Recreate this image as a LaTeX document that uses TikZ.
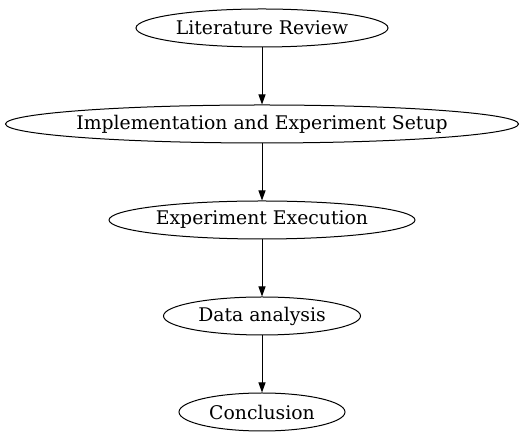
\documentclass[tikz,border=0pt]{standalone}
\usepackage{fontspec}
\setmainfont{DejaVu Serif}
\usetikzlibrary{shapes.geometric,arrows.meta}
\begin{document}
\begin{tikzpicture}[x=1pt,y=1pt,
  stage/.style={draw,ellipse,inner xsep=-30pt,inner ysep=-2pt,minimum height=38pt,font=\fontsize{18.8}{21}\selectfont,line width=1pt},
  conn/.style={-{Triangle[length=10pt,width=7pt]},line width=1pt}]
\useasboundingbox (0,0) rectangle (524,443);
\node[stage,minimum width=252pt] (a) at (262,415) {Literature Review};
\node[stage,minimum width=513pt] (b) at (262,319) {Implementation and Experiment Setup};
\node[stage,minimum width=306pt] (c) at (262,223) {Experiment Execution};
\node[stage,minimum width=197pt] (d) at (262,127) {Data analysis};
\node[stage,minimum width=166pt] (e) at (262,31) {Conclusion};
\draw[conn] (a) -- (b);
\draw[conn] (b) -- (c);
\draw[conn] (c) -- (d);
\draw[conn] (d) -- (e);
\end{tikzpicture}
\end{document}
